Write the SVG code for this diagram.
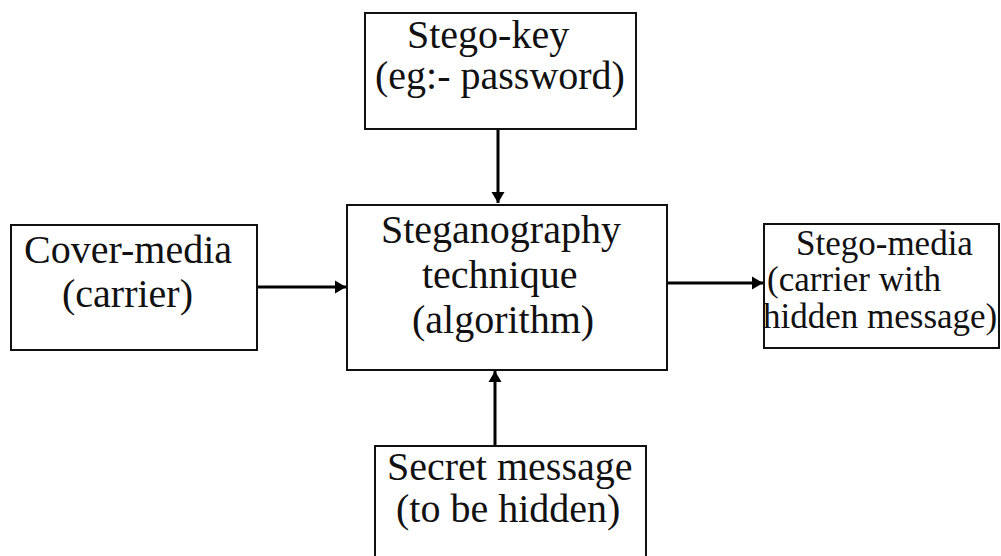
<svg xmlns="http://www.w3.org/2000/svg" width="1001" height="556" viewBox="0 0 1001 556">
<style>
.box{fill:#fff;stroke:#111;stroke-width:2}
.t{font-family:"Liberation Serif","Times New Roman",serif;font-size:40px;fill:#111}
.s{font-size:35px}
.c{stroke:#000;stroke-width:3;fill:none}
</style>
<defs>
<marker id="ah" markerUnits="userSpaceOnUse" markerWidth="16" markerHeight="16" viewBox="0 0 16 16" refX="11" refY="8" orient="auto">
<path d="M0,1.5 L11,8 L0,14.5 Z" fill="#000"/>
</marker>
</defs>
<rect width="1001" height="556" fill="#fff"/>
<g id="connectors">
<line class="c" x1="498" y1="129" x2="498" y2="203" marker-end="url(#ah)"/>
<line class="c" x1="257" y1="287" x2="346" y2="287" marker-end="url(#ah)"/>
<line class="c" x1="667" y1="283" x2="763" y2="283" marker-end="url(#ah)"/>
<line class="c" x1="495" y1="446" x2="495" y2="371" marker-end="url(#ah)"/>
</g>
<g id="stego-key">
<rect class="box" x="365" y="13" width="271" height="116"/>
<text class="t" x="407" y="48">Stego-key</text>
<text class="t" x="375" y="89">(eg:- password)</text>
</g>
<g id="technique">
<rect class="box" x="347" y="205" width="320" height="165"/>
<text class="t" x="381" y="243">Steganography</text>
<text class="t" x="422" y="288">technique</text>
<text class="t" x="412" y="333">(algorithm)</text>
</g>
<g id="cover-media">
<rect class="box" x="11" y="225" width="246" height="125"/>
<text class="t" x="24" y="263">Cover-media</text>
<text class="t" x="62" y="307">(carrier)</text>
</g>
<g id="stego-media">
<rect class="box" x="764" y="224" width="235" height="124"/>
<text class="t s" x="796" y="255">Stego-media</text>
<text class="t s" x="767" y="291">(carrier with</text>
<text class="t s" x="763" y="328">hidden message)</text>
</g>
<g id="secret-message">
<rect class="box" x="375" y="446" width="271" height="116"/>
<text class="t" x="387" y="480">Secret message</text>
<text class="t" x="396" y="522">(to be hidden)</text>
</g>
</svg>
